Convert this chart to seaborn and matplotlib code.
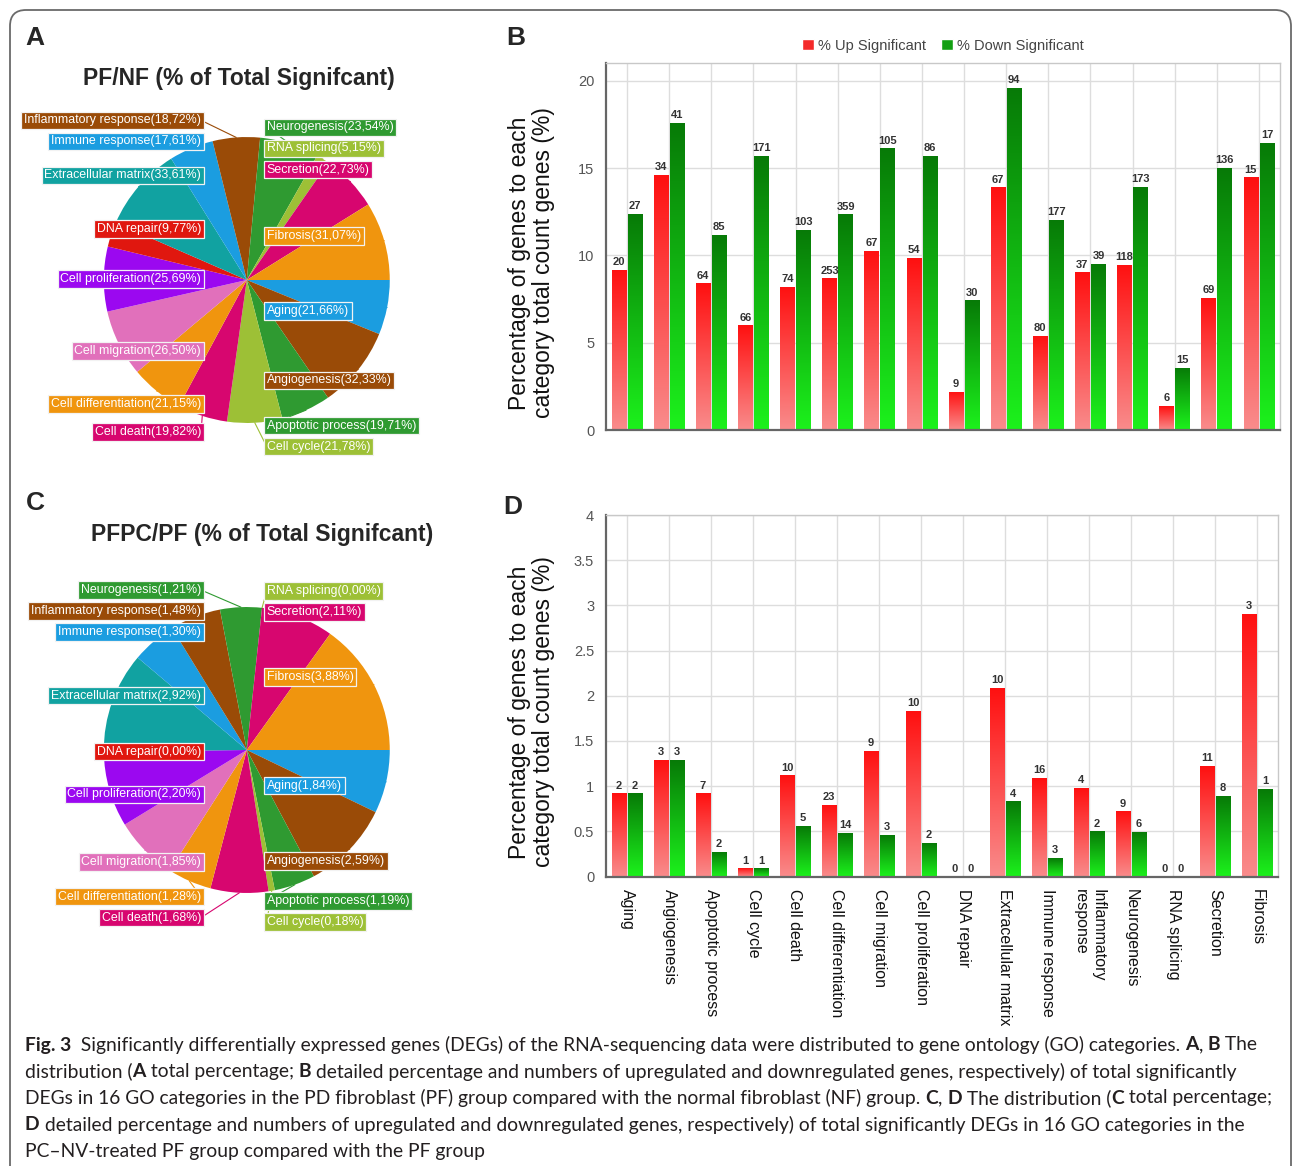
import numpy as np
import pandas as pd
import matplotlib
matplotlib.use("Agg")
import matplotlib.pyplot as plt
import seaborn as sns
from matplotlib.colors import LinearSegmentedColormap
from matplotlib.patches import Patch, FancyBboxPatch
from matplotlib.transforms import IdentityTransform
from matplotlib.font_manager import FontProperties, fontManager


# ---- data ----
categories = ["Aging", "Angiogenesis", "Apoptotic process", "Cell cycle",
              "Cell death", "Cell differentiation", "Cell migration",
              "Cell proliferation", "DNA repair", "Extracellular matrix",
              "Immune response", "Inflammatory response", "Neurogenesis",
              "RNA splicing", "Secretion", "Fibrosis"]
tick_labels = [c.replace("Inflammatory response", "Inflammatory\nresponse") for c in categories]

pie_a_pct = [21.66, 32.33, 19.71, 21.78, 19.82, 21.15, 26.50, 25.69,
             9.77, 33.61, 17.61, 18.72, 23.54, 5.15, 22.73, 31.07]
pie_c_pct = [1.84, 2.59, 1.19, 0.18, 1.68, 1.28, 1.85, 2.20,
             0.00, 2.92, 1.30, 1.48, 1.21, 0.00, 2.11, 3.88]

b_up_pct = [9.17, 14.6, 8.4, 6.0, 8.2, 8.69, 10.27, 9.85,
            2.19, 13.9, 5.41, 9.03, 9.47, 1.37, 7.56, 14.48]
b_down_pct = [12.4, 17.6, 11.2, 15.7, 11.46, 12.36, 16.14, 15.7,
              7.43, 19.6, 12.04, 9.52, 13.95, 3.56, 15.0, 16.45]
b_up_n = [20, 34, 64, 66, 74, 253, 67, 54, 9, 67, 80, 37, 118, 6, 69, 15]
b_down_n = [27, 41, 85, 171, 103, 359, 105, 86, 30, 94, 177, 39, 173, 15, 136, 17]

d_up_pct = [0.92, 1.29, 0.92, 0.09, 1.12, 0.795, 1.39, 1.83,
            0.0, 2.09, 1.09, 0.98, 0.72, 0.0, 1.22, 2.91]
d_down_pct = [0.92, 1.29, 0.27, 0.09, 0.56, 0.485, 0.46, 0.37,
              0.0, 0.83, 0.21, 0.50, 0.49, 0.0, 0.89, 0.97]
d_up_n = [2, 3, 7, 1, 10, 23, 9, 10, 0, 10, 16, 4, 9, 0, 11, 3]
d_down_n = [2, 3, 2, 1, 5, 14, 3, 2, 0, 4, 3, 2, 6, 0, 8, 1]

series = ["% Up Significant", "% Down Significant"]

caption_lines = [
    [("Fig. 3", True), ("  Significantly differentially expressed genes (DEGs) of the RNA-sequencing data were distributed to gene ontology (GO) categories. ", False),
     ("A", True), (", ", False), ("B", True), (" The", False)],
    [("distribution (", False), ("A", True), (" total percentage; ", False), ("B", True),
     (" detailed percentage and numbers of upregulated and downregulated genes, respectively) of total significantly", False)],
    [("DEGs in 16 GO categories in the PD fibroblast (PF) group compared with the normal fibroblast (NF) group. ", False),
     ("C", True), (", ", False), ("D", True), (" The distribution (", False), ("C", True), (" total percentage;", False)],
    [("D", True), (" detailed percentage and numbers of upregulated and downregulated genes, respectively) of total significantly DEGs in 16 GO categories in the", False)],
    [("PC\u2013NV-treated PF group compared with the PF group", False)],
]

# ---- style ----
pie_colors = ["#1b9de0", "#9a4b07", "#2f9a31", "#9dc036", "#d7066f",
              "#f0950e", "#e170bb", "#9b08f0", "#e0170f", "#11a2a1"]
up_grad = ("#f98c8c", "#ff1010")      # bottom, top
down_grad = ("#1cf21c", "#077a07")

sns.set_style("white")
plt.rcParams["font.family"] = ["Liberation Sans", "DejaVu Sans"]

W, H = 1292, 1166
fig = plt.figure(figsize=(W / 100, H / 100), dpi=100)
fig.patch.set_facecolor("white")


def add_ax(x0, y0, x1, y1):
    return fig.add_axes([x0 / W, 1 - y1 / H, (x1 - x0) / W, (y1 - y0) / H])


def fig_text(x, y, s, **kw):
    return fig.text(x / W, 1 - y / H, s, **kw)


def draw_pie(ax, values):
    colors = [pie_colors[i % len(pie_colors)] for i in range(len(values))]
    wedges, _ = ax.pie(values, colors=colors, startangle=0, counterclock=False,
                       radius=1.0, wedgeprops=dict(linewidth=0))
    ax.set_xlim(-1.585, 1.49)
    ax.set_ylim(-1.294, 1.294)
    ax.set_aspect("equal")
    ax.axis("off")

    entries = []
    for name, val, w, col in zip(categories, values, wedges, colors):
        mid = np.deg2rad((w.theta1 + w.theta2) / 2)
        side = -1 if np.cos(mid) < 0 else 1
        entries.append([name, val, mid, side, 1.12 * np.sin(mid), col])

    # push overlapping labels down inside each column
    for side in (-1, 1):
        prev = None
        for e in sorted([e for e in entries if e[3] == side], key=lambda e: -e[4]):
            if prev is not None and e[4] > prev - 0.147:
                e[4] = prev - 0.147
            prev = e[4]

    for name, val, mid, side, y, col in entries:
        ax_x = -0.32 if side < 0 else 0.14
        ax.plot([np.cos(mid), ax_x], [np.sin(mid), y], color=col, lw=0.8,
                zorder=0.5, clip_on=False)
        label = f"{name}({val:.2f}%)".replace(".", ",")
        ax.text(ax_x, y, label, ha="right" if side < 0 else "left", va="center",
                color="white", fontsize=8.9, zorder=4,
                bbox=dict(boxstyle="square,pad=0.22", fc=col, ec="#f2f2f2", lw=0.9))


def gradient_fill(ax, container, colors):
    cmap = LinearSegmentedColormap.from_list("bar", list(colors))
    grad = np.linspace(0, 1, 256).reshape(-1, 1)
    for p in container.patches:
        h = p.get_height()
        if h <= 0:
            continue
        x, w = p.get_x(), p.get_width()
        im = ax.imshow(grad, cmap=cmap, origin="lower", aspect="auto",
                       extent=[x, x + w, 0, h], zorder=2, interpolation="bilinear")
        im.set_clip_path(p)
        p.set_facecolor("none")


def draw_bars(ax, up, down, up_n, down_n, ymax, yticks, show_labels):
    df = pd.DataFrame({
        "Category": categories * 2,
        "Series": [series[0]] * len(categories) + [series[1]] * len(categories),
        "Value": up + down,
    })
    sns.barplot(data=df, x="Category", y="Value", hue="Series",
                order=categories, hue_order=series,
                palette={series[0]: up_grad[1], series[1]: down_grad[1]},
                width=0.76, gap=0.08, saturation=1, linewidth=0,
                legend=False, ax=ax)

    for cont, ns in zip(ax.containers, [up_n, down_n]):
        ax.bar_label(cont, labels=[str(n) for n in ns], padding=2,
                     fontsize=8, fontweight="bold", color="#333333", zorder=5)
    gradient_fill(ax, ax.containers[0], up_grad)
    gradient_fill(ax, ax.containers[1], down_grad)

    ax.set_xlim(-0.5, len(categories) - 0.5)
    ax.set_ylim(0, ymax)
    ax.set_yticks(yticks)
    ax.set_yticklabels([f"{t:g}" for t in yticks])
    ax.set_xticks(range(len(categories)))
    ax.grid(True, color="#dddddd", lw=1)
    ax.set_axisbelow(True)
    ax.set_xlabel("")
    ax.set_ylabel("Percentage of genes to each\ncategory total count genes (%)",
                  fontsize=16.5, color="#111111", linespacing=1.05)
    ax.yaxis.set_label_coords(-0.076, 0.455)
    for s in ["left", "bottom"]:
        ax.spines[s].set_color("#666666")
        ax.spines[s].set_linewidth(1.6)
    for s in ["top", "right"]:
        ax.spines[s].set_color("#c8c8c8")
        ax.spines[s].set_linewidth(1.0)
    ax.tick_params(axis="both", direction="out", length=5, width=1.2,
                   color="#555555", labelcolor="#555555", labelsize=10.5)
    if show_labels:
        ax.set_xticklabels(tick_labels, rotation=270, fontsize=11.5, color="#111111")
        for lbl in ax.get_xticklabels():
            lbl.set_multialignment("left")
        ax.tick_params(axis="x", pad=4)
    else:
        ax.set_xticklabels([])


# ---- pies ----
ax_a = add_ax(20, 95, 460, 465)
draw_pie(ax_a, pie_a_pct)
ax_c = add_ax(20, 565, 460, 935)
draw_pie(ax_c, pie_c_pct)

# ---- bars ----
ax_b = add_ax(606, 63, 1280, 430)
draw_bars(ax_b, b_up_pct, b_down_pct, b_up_n, b_down_n, 21.03, [0, 5, 10, 15, 20], False)
ax_b.legend(handles=[Patch(fc="#f42a2a"), Patch(fc="#13a013")], labels=series,
            ncol=2, loc="lower center", bbox_to_anchor=(0.5, 1.0), frameon=False,
            fontsize=10.5, handlelength=0.8, handleheight=0.8, handletextpad=0.3,
            columnspacing=1.0, borderaxespad=0.3, labelcolor="#444444")

ax_d = add_ax(606, 515, 1278, 876.5)
draw_bars(ax_d, d_up_pct, d_down_pct, d_up_n, d_down_n, 4.0,
          [0, 0.5, 1, 1.5, 2, 2.5, 3, 3.5, 4], True)

# ---- titles and panel letters ----
fig_text(239, 78, "PF/NF (% of Total Signifcant)", fontsize=16.5, fontweight="bold",
         ha="center", va="center")
fig_text(262, 535, "PFPC/PF (% of Total Signifcant)", fontsize=16.5, fontweight="bold",
         ha="center", va="center")
for letter, x, y in [("A", 35, 38), ("B", 516, 38), ("C", 35, 503), ("D", 513, 507)]:
    fig_text(x, y, letter, fontsize=19, fontweight="bold", ha="center", va="center")

# ---- caption ----
names = {f.name for f in fontManager.ttflist}
cap_family = "Liberation Sans Narrow" if "Liberation Sans Narrow" in names else "Lato"
renderer = fig.canvas.get_renderer()


def seg_width(s, bold, size):
    fp = FontProperties(family=cap_family, size=size, weight="bold" if bold else "normal")
    w1 = renderer.get_text_width_height_descent("|" + s + "|", fp, ismath=False)[0]
    w0 = renderer.get_text_width_height_descent("||", fp, ismath=False)[0]
    return w1 - w0


base = 10.0
line1_w = sum(seg_width(s, b, base) for s, b in caption_lines[0])
cap_size = base * 1237 / line1_w

for i, segs in enumerate(caption_lines):
    x = 25
    y = 1045 + i * 26.5
    for s, b in segs:
        fig_text(x, y, s, fontsize=cap_size, family=cap_family, va="center", ha="left",
                 fontweight="bold" if b else "normal", color="#231f20")
        x += seg_width(s, b, cap_size)

# ---- outer rounded frame ----
fig.add_artist(FancyBboxPatch((10, -60), 1281, H - 10 + 60,
                              boxstyle="round,pad=0,rounding_size=16",
                              transform=IdentityTransform(), fc="none",
                              ec="#6a6a6a", lw=1.3))

fig.savefig("out.png", dpi=100, facecolor="white")
